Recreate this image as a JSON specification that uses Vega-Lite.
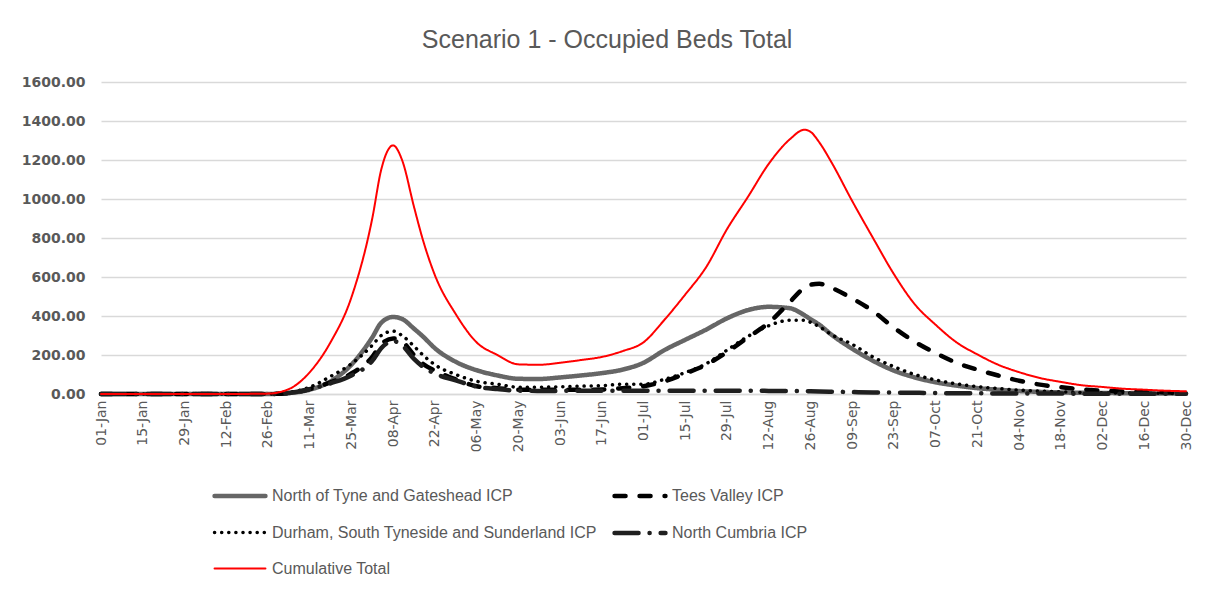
{
  "$schema": "https://vega.github.io/schema/vega-lite/v6.json",
  "width": 1085,
  "height": 312,
  "autosize": {"type": "none"},
  "padding": {"left": 101, "top": 82, "right": 19, "bottom": 198},
  "background": "white",
  "title": {
    "text": "Scenario 1 - Occupied Beds Total",
    "anchor": "middle",
    "frame": "bounds",
    "offset": 22,
    "font": "Liberation Sans",
    "fontSize": 25,
    "fontWeight": "normal",
    "color": "#595959"
  },
  "config": {
    "view": {"stroke": null},
    "font": "Liberation Sans",
    "legend": {
      "title": null,
      "direction": "horizontal",
      "columns": 2,
      "columnPadding": 8,
      "rowPadding": 0,
      "symbolType": "stroke",
      "symbolSize": 2592,
      "labelFont": "Liberation Sans",
      "labelFontSize": 16,
      "labelColor": "#595959",
      "labelOffset": 4,
      "labelLimit": 500
    }
  },
  "data": {
    "values": [
      {"date": "2020-01-01", "NT": 0, "TV": 0, "DS": 0, "NC": 0, "CT": 0},
      {"date": "2020-01-15", "NT": 0, "TV": 0, "DS": 0, "NC": 0, "CT": 0},
      {"date": "2020-01-29", "NT": 0, "TV": 0, "DS": 0, "NC": 0, "CT": 0},
      {"date": "2020-02-12", "NT": 0, "TV": 0, "DS": 0, "NC": 0, "CT": 0},
      {"date": "2020-02-26", "NT": 0, "TV": 0, "DS": 0, "NC": 0, "CT": 2},
      {"date": "2020-03-04", "NT": 5, "TV": 5, "DS": 8, "NC": 5, "CT": 25},
      {"date": "2020-03-11", "NT": 22, "TV": 25, "DS": 35, "NC": 25, "CT": 111},
      {"date": "2020-03-18", "NT": 65, "TV": 60, "DS": 90, "NC": 55, "CT": 265},
      {"date": "2020-03-25", "NT": 150, "TV": 105, "DS": 155, "NC": 95, "CT": 495},
      {"date": "2020-04-01", "NT": 290, "TV": 190, "DS": 250, "NC": 170, "CT": 900},
      {"date": "2020-04-04", "NT": 365, "TV": 255, "DS": 300, "NC": 235, "CT": 1150},
      {"date": "2020-04-08", "NT": 395, "TV": 285, "DS": 322, "NC": 272, "CT": 1275},
      {"date": "2020-04-11", "NT": 385, "TV": 270, "DS": 300, "NC": 250, "CT": 1200},
      {"date": "2020-04-15", "NT": 335, "TV": 200, "DS": 245, "NC": 180, "CT": 960},
      {"date": "2020-04-18", "NT": 295, "TV": 155, "DS": 200, "NC": 140, "CT": 790},
      {"date": "2020-04-22", "NT": 235, "TV": 120, "DS": 150, "NC": 105, "CT": 610},
      {"date": "2020-04-29", "NT": 165, "TV": 75, "DS": 100, "NC": 70, "CT": 410},
      {"date": "2020-05-06", "NT": 122, "TV": 40, "DS": 65, "NC": 38, "CT": 265},
      {"date": "2020-05-13", "NT": 95, "TV": 30, "DS": 50, "NC": 25, "CT": 200},
      {"date": "2020-05-20", "NT": 78, "TV": 22, "DS": 35, "NC": 17, "CT": 152},
      {"date": "2020-05-27", "NT": 77, "TV": 22, "DS": 35, "NC": 16, "CT": 150},
      {"date": "2020-06-03", "NT": 85, "TV": 22, "DS": 37, "NC": 16, "CT": 160},
      {"date": "2020-06-10", "NT": 95, "TV": 22, "DS": 40, "NC": 17, "CT": 174},
      {"date": "2020-06-17", "NT": 107, "TV": 23, "DS": 43, "NC": 17, "CT": 190},
      {"date": "2020-06-24", "NT": 125, "TV": 30, "DS": 50, "NC": 17, "CT": 220},
      {"date": "2020-07-01", "NT": 160, "TV": 40, "DS": 50, "NC": 17, "CT": 265},
      {"date": "2020-07-08", "NT": 225, "TV": 65, "DS": 75, "NC": 17, "CT": 380},
      {"date": "2020-07-15", "NT": 278, "TV": 105, "DS": 110, "NC": 17, "CT": 510},
      {"date": "2020-07-22", "NT": 330, "TV": 150, "DS": 155, "NC": 17, "CT": 650},
      {"date": "2020-07-29", "NT": 388, "TV": 215, "DS": 225, "NC": 17, "CT": 845},
      {"date": "2020-08-05", "NT": 430, "TV": 290, "DS": 295, "NC": 17, "CT": 1010},
      {"date": "2020-08-12", "NT": 447, "TV": 365, "DS": 350, "NC": 16, "CT": 1180},
      {"date": "2020-08-19", "NT": 440, "TV": 470, "DS": 378, "NC": 15, "CT": 1305},
      {"date": "2020-08-24", "NT": 404, "TV": 545, "DS": 378, "NC": 15, "CT": 1355},
      {"date": "2020-08-26", "NT": 384, "TV": 560, "DS": 368, "NC": 14, "CT": 1345},
      {"date": "2020-08-29", "NT": 355, "TV": 565, "DS": 345, "NC": 13, "CT": 1290},
      {"date": "2020-09-02", "NT": 305, "TV": 545, "DS": 305, "NC": 12, "CT": 1190},
      {"date": "2020-09-09", "NT": 232, "TV": 490, "DS": 255, "NC": 10, "CT": 990},
      {"date": "2020-09-16", "NT": 170, "TV": 425, "DS": 190, "NC": 8, "CT": 800},
      {"date": "2020-09-23", "NT": 120, "TV": 340, "DS": 140, "NC": 7, "CT": 615},
      {"date": "2020-09-30", "NT": 85, "TV": 268, "DS": 100, "NC": 6, "CT": 460},
      {"date": "2020-10-07", "NT": 60, "TV": 210, "DS": 72, "NC": 5, "CT": 355},
      {"date": "2020-10-14", "NT": 43, "TV": 160, "DS": 52, "NC": 4, "CT": 265},
      {"date": "2020-10-21", "NT": 30, "TV": 125, "DS": 38, "NC": 4, "CT": 203},
      {"date": "2020-10-28", "NT": 22, "TV": 95, "DS": 28, "NC": 3, "CT": 150},
      {"date": "2020-11-04", "NT": 15, "TV": 68, "DS": 20, "NC": 3, "CT": 112},
      {"date": "2020-11-11", "NT": 11, "TV": 48, "DS": 15, "NC": 2, "CT": 82},
      {"date": "2020-11-18", "NT": 8, "TV": 35, "DS": 11, "NC": 2, "CT": 62},
      {"date": "2020-11-25", "NT": 6, "TV": 24, "DS": 8, "NC": 1, "CT": 45},
      {"date": "2020-12-02", "NT": 5, "TV": 17, "DS": 6, "NC": 1, "CT": 36},
      {"date": "2020-12-09", "NT": 4, "TV": 13, "DS": 5, "NC": 1, "CT": 27},
      {"date": "2020-12-16", "NT": 3, "TV": 10, "DS": 4, "NC": 1, "CT": 22},
      {"date": "2020-12-23", "NT": 2, "TV": 8, "DS": 3, "NC": 1, "CT": 17},
      {"date": "2020-12-30", "NT": 2, "TV": 6, "DS": 2, "NC": 1, "CT": 14}
    ]
  },
  "transform": [
    {"fold": ["NT", "TV", "DS", "NC", "CT"], "as": ["series", "value"]}
  ],
  "mark": {"type": "line", "interpolate": "monotone", "strokeCap": "round", "strokeJoin": "round"},
  "encoding": {
    "x": {
      "field": "date",
      "type": "temporal",
      "scale": {
        "type": "utc",
        "domain": [
          {"year": 2020, "month": 1, "date": 1, "utc": true},
          {"year": 2020, "month": 12, "date": 30, "utc": true}
        ]
      },
      "axis": {
        "title": null,
        "labelExpr": "utcFormat(datum.value, '%d-%b')",
        "values": [
          {"year": 2020, "month": 1, "date": 1, "utc": true},
          {"year": 2020, "month": 1, "date": 15, "utc": true},
          {"year": 2020, "month": 1, "date": 29, "utc": true},
          {"year": 2020, "month": 2, "date": 12, "utc": true},
          {"year": 2020, "month": 2, "date": 26, "utc": true},
          {"year": 2020, "month": 3, "date": 11, "utc": true},
          {"year": 2020, "month": 3, "date": 25, "utc": true},
          {"year": 2020, "month": 4, "date": 8, "utc": true},
          {"year": 2020, "month": 4, "date": 22, "utc": true},
          {"year": 2020, "month": 5, "date": 6, "utc": true},
          {"year": 2020, "month": 5, "date": 20, "utc": true},
          {"year": 2020, "month": 6, "date": 3, "utc": true},
          {"year": 2020, "month": 6, "date": 17, "utc": true},
          {"year": 2020, "month": 7, "date": 1, "utc": true},
          {"year": 2020, "month": 7, "date": 15, "utc": true},
          {"year": 2020, "month": 7, "date": 29, "utc": true},
          {"year": 2020, "month": 8, "date": 12, "utc": true},
          {"year": 2020, "month": 8, "date": 26, "utc": true},
          {"year": 2020, "month": 9, "date": 9, "utc": true},
          {"year": 2020, "month": 9, "date": 23, "utc": true},
          {"year": 2020, "month": 10, "date": 7, "utc": true},
          {"year": 2020, "month": 10, "date": 21, "utc": true},
          {"year": 2020, "month": 11, "date": 4, "utc": true},
          {"year": 2020, "month": 11, "date": 18, "utc": true},
          {"year": 2020, "month": 12, "date": 2, "utc": true},
          {"year": 2020, "month": 12, "date": 16, "utc": true},
          {"year": 2020, "month": 12, "date": 30, "utc": true}
        ],
        "labelAngle": -90,
        "labelFont": "DejaVu Sans",
        "labelFontSize": 14,
        "labelColor": "#595959",
        "labelPadding": 6,
        "labelOverlap": false,
        "labelFlush": false,
        "ticks": false,
        "grid": false,
        "domainColor": "#d9d9d9",
        "domainWidth": 1.5
      }
    },
    "y": {
      "field": "value",
      "type": "quantitative",
      "scale": {"domain": [0, 1600], "nice": false},
      "axis": {
        "title": null,
        "values": [0, 200, 400, 600, 800, 1000, 1200, 1400, 1600],
        "format": ".2f",
        "labelFont": "DejaVu Sans",
        "labelFontWeight": "bold",
        "labelFontSize": 14,
        "labelColor": "#595959",
        "labelPadding": 16,
        "domain": false,
        "ticks": false,
        "gridColor": "#d9d9d9",
        "gridWidth": 1.3
      }
    },
    "color": {
      "field": "series",
      "type": "nominal",
      "scale": {
        "domain": ["NT", "TV", "DS", "NC", "CT"],
        "range": ["#666666", "#000000", "#000000", "#1f1f1f", "#ff0000"]
      },
      "legend": {
        "orient": "none",
        "legendX": 111,
        "legendY": 386,
        "encode": {"symbols": {"update": {"strokeCap": {"value": "round"}}}},
        "labelExpr": "{'NT': 'North of Tyne and Gateshead ICP', 'TV': 'Tees Valley ICP', 'DS': 'Durham, South Tyneside and Sunderland ICP', 'NC': 'North Cumbria ICP', 'CT': 'Cumulative Total'}[datum.label]"
      }
    },
    "strokeDash": {
      "field": "series",
      "type": "nominal",
      "scale": {
        "domain": ["NT", "TV", "DS", "NC", "CT"],
        "range": [[1, 0], [11, 14], [0.1, 7], [24, 11, 0.1, 11], [1, 0]]
      },
      "legend": {
        "orient": "none",
        "legendX": 111,
        "legendY": 386,
        "encode": {"symbols": {"update": {"strokeCap": {"value": "round"}}}},
        "labelExpr": "{'NT': 'North of Tyne and Gateshead ICP', 'TV': 'Tees Valley ICP', 'DS': 'Durham, South Tyneside and Sunderland ICP', 'NC': 'North Cumbria ICP', 'CT': 'Cumulative Total'}[datum.label]"
      }
    },
    "strokeWidth": {
      "field": "series",
      "type": "nominal",
      "scale": {
        "type": "ordinal",
        "domain": ["NT", "TV", "DS", "NC", "CT"],
        "range": [4.5, 4.5, 3.5, 4.5, 2]
      },
      "legend": {
        "orient": "none",
        "legendX": 111,
        "legendY": 386,
        "encode": {"symbols": {"update": {"strokeCap": {"value": "round"}}}},
        "labelExpr": "{'NT': 'North of Tyne and Gateshead ICP', 'TV': 'Tees Valley ICP', 'DS': 'Durham, South Tyneside and Sunderland ICP', 'NC': 'North Cumbria ICP', 'CT': 'Cumulative Total'}[datum.label]"
      }
    }
  }
}
